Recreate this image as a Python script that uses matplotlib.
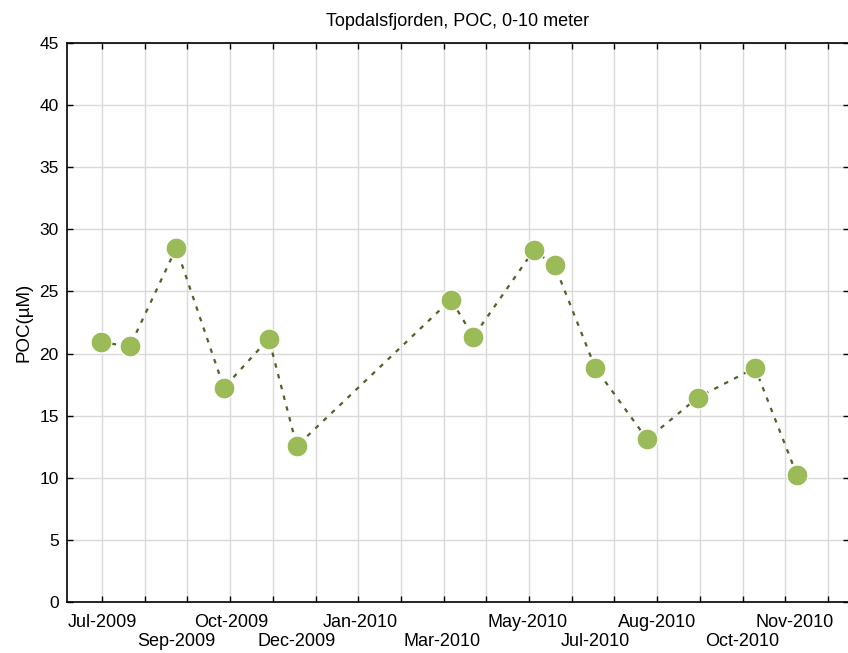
import numpy as np
import pandas as pd
import matplotlib
matplotlib.use('Agg')
import matplotlib.pyplot as plt
import matplotlib.dates as mdates

plt.rcParams['font.family'] = ['Liberation Sans', 'DejaVu Sans']

# sampling dates and POC values
dates = ['2009-06-30', '2009-07-21', '2009-08-23', '2009-09-26', '2009-10-28',
         '2009-11-17', '2010-03-07', '2010-03-23', '2010-05-05', '2010-05-20',
         '2010-06-18', '2010-07-25', '2010-08-30', '2010-10-10', '2010-11-09']
poc = [20.9, 20.6, 28.5, 17.25, 21.2, 12.55, 24.35, 21.35, 28.3, 27.1,
       18.85, 13.1, 16.45, 18.85, 10.2]

# x tick labels, two staggered rows
top_labels = ['Jul-2009', 'Oct-2009', 'Jan-2010', 'May-2010', 'Aug-2010', 'Nov-2010']
top_dates = ['2009-07-01', '2009-10-01', '2010-01-01', '2010-05-01', '2010-08-01', '2010-11-07']
bot_labels = ['Sep-2009', 'Dec-2009', 'Mar-2010', 'Jul-2010', 'Oct-2010']
bot_dates = ['2009-08-23', '2009-11-17', '2010-03-01', '2010-06-18', '2010-10-01']

x = mdates.date2num(pd.to_datetime(dates))

fig = plt.figure(figsize=(8.48, 6.53), dpi=100)
ax = fig.add_axes([67 / 848, 51 / 653, 782 / 848, 559 / 653])

# monthly grid, equally spaced like the original
t0 = mdates.date2num(pd.Timestamp('2009-07-01'))
t1 = mdates.date2num(pd.Timestamp('2010-12-01'))
xticks = np.linspace(t0, t1, 18)
ax.set_xticks(xticks)
ax.set_xticklabels([])
ax.set_yticks(np.arange(0, 46, 5))
ax.set_ylim(0, 45)
step = xticks[1] - xticks[0]
left = t0 - (102 - 67) / 42.7 * step
right = left + 782 / 42.7 * step
ax.set_xlim(left, right)

ax.grid(True, color='#d9d9d9', linewidth=1)
ax.set_axisbelow(True)
ax.tick_params(direction='in', length=4, width=1, top=True, right=True,
               labelsize=12.5, pad=6)
for s in ax.spines.values():
    s.set_linewidth(1.2)

ax.plot(x, poc, linestyle=(0, (2, 3)), color='#4f6228', linewidth=1.6,
        marker='o', markersize=15, markerfacecolor='#9bbb59',
        markeredgecolor='white', markeredgewidth=0.8)

trans = ax.get_xaxis_transform()
for lab, d in zip(top_labels, top_dates):
    ax.text(mdates.date2num(pd.Timestamp(d)), -0.036, lab, transform=trans,
            ha='center', va='center', fontsize=13)
for lab, d in zip(bot_labels, bot_dates):
    ax.text(mdates.date2num(pd.Timestamp(d)), -0.07, lab, transform=trans,
            ha='center', va='center', fontsize=13)

ax.set_ylabel('POC(µM)', fontsize=13.5, labelpad=5)
ax.set_title('Topdalsfjorden, POC, 0-10 meter', fontsize=13, pad=12)

fig.savefig('out.png', dpi=100)
